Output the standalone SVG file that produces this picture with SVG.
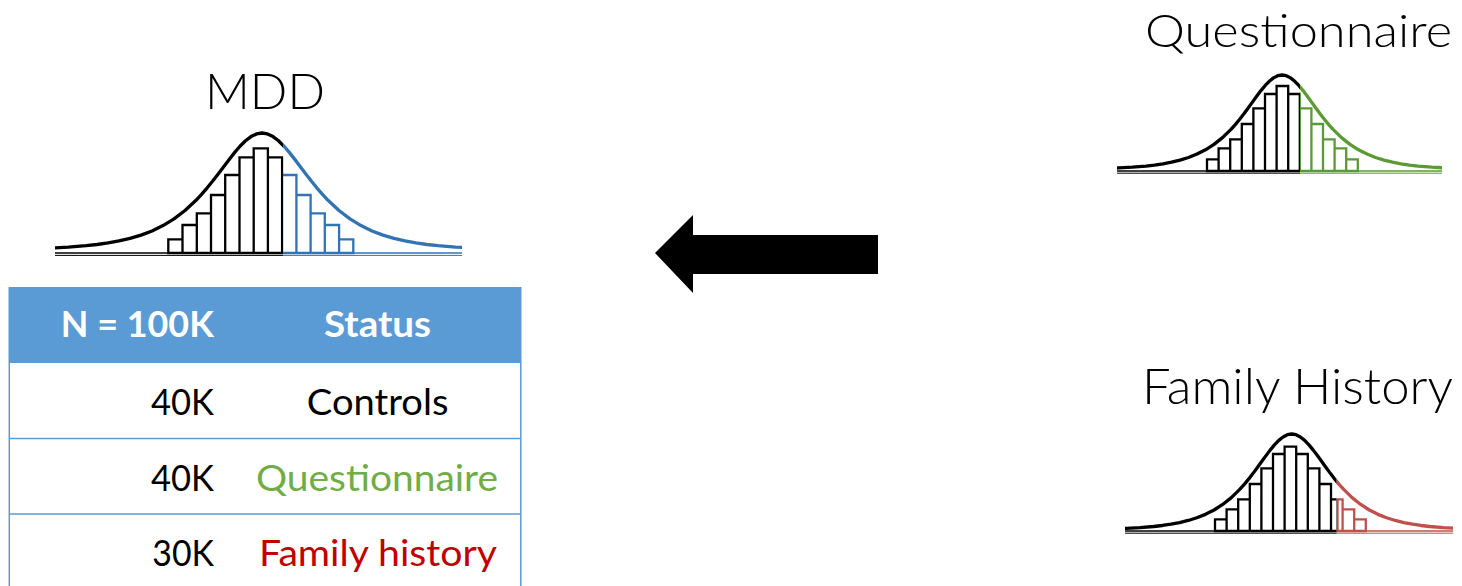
<svg xmlns="http://www.w3.org/2000/svg" xmlns:xlink="http://www.w3.org/1999/xlink" width="1462" height="586" viewBox="0 0 1462 586">
  <style>
    .curve { fill: none; stroke-width: 3.3; vector-effect: non-scaling-stroke; stroke-linejoin: round; }
    .bars { fill: none; stroke-width: 2.3; }
    .base { fill: none; }
    .title { font-family: Lato, "Open Sans", "Liberation Sans", sans-serif; font-weight: 300; fill: #000; }
    .cell { font-family: Lato, "Open Sans", "Liberation Sans", sans-serif; font-size: 37px; fill: #000; }
    .head { font-weight: 700; fill: #fff; }
    .grid { stroke: #5B9BD5; stroke-width: 1.5; fill: none; }
  </style>
  <defs>
    <!-- unit bell curve: y = -sech(u), peak at (0,-1) -->
    <path id="bell" class="curve" d="M-5.2,-0.011 L-4.8,-0.0165 -4.4,-0.0246 -4,-0.0366 -3.75,-0.047 -3.5,-0.0603 -3.25,-0.0774 -3,-0.0993 -2.75,-0.1273 -2.5,-0.1631 -2.25,-0.2085 -2,-0.2658 -1.75,-0.3374 -1.5,-0.4251 -1.375,-0.4753 -1.25,-0.5295 -1.125,-0.5874 -1,-0.6481 -0.875,-0.7103 -0.75,-0.7724 -0.625,-0.8321 -0.5,-0.8868 -0.375,-0.9336 -0.25,-0.9695 -0.125,-0.9922 0,-1 0.125,-0.9922 0.25,-0.9695 0.375,-0.9336 0.5,-0.8868 0.625,-0.8321 0.75,-0.7724 0.875,-0.7103 1,-0.6481 1.125,-0.5874 1.25,-0.5295 1.375,-0.4753 1.5,-0.4251 1.75,-0.3374 2,-0.2658 2.25,-0.2085 2.5,-0.1631 2.75,-0.1273 3,-0.0993 3.25,-0.0774 3.5,-0.0603 3.75,-0.047 4,-0.0366 4.4,-0.0246 4.8,-0.0165 5.2,-0.011"/>

    <!-- MDD distribution artwork (stroke colour set by each use) -->
    <g id="mdd-art">
      <use xlink:href="#bell" transform="translate(262 250) scale(44 117)"/>
      <path class="bars" d="M168.3 253V239.3H182.5V253Z M182.5 253V225H196.8V253Z M196.8 253V213.3H211V253Z M211 253V195H225.2V253Z M225.2 253V175H239.5V253Z M239.5 253V157.3H253.7V253Z M253.7 253V148.3H267.9V253Z M267.9 253V157.3H282.1V253Z M282.1 253V175H296.4V253Z M296.4 253V195H310.6V253Z M310.6 253V213.3H324.8V253Z M324.8 253V225H339.1V253Z M339.1 253V239.3H353.3V253Z"/>
      <path class="base" stroke-width="1.6" d="M55 253H462"/>
      <path class="base" stroke-width="1" d="M55 255.4H462"/>
    </g>

    <!-- Questionnaire distribution artwork -->
    <g id="q-art">
      <use xlink:href="#bell" transform="translate(1282 169.5) scale(34 94.5)"/>
      <path class="bars" d="M1207 171V159.3H1218.6V171Z M1218.6 171V148.3H1230.2V171Z M1230.2 171V139.3H1241.8V171Z M1241.8 171V124H1253.4V171Z M1253.4 171V108.3H1265V171Z M1265 171V94H1276.6V171Z M1276.6 171V86H1288.2V171Z M1288.2 171V94H1299.8V171Z M1299.8 171V108.3H1311.4V171Z M1311.4 171V124H1323V171Z M1323 171V139.3H1334.6V171Z M1334.6 171V148.3H1346.2V171Z M1346.2 171V159.3H1357.8V171Z"/>
      <path class="base" stroke-width="1.6" d="M1117 171H1442"/>
      <path class="base" stroke-width="1" d="M1117 173.2H1442"/>
    </g>

    <!-- Family History distribution artwork -->
    <g id="fh-art">
      <use xlink:href="#bell" transform="translate(1291.7 530) scale(34.5 96)"/>
      <path class="bars" d="M1215 531V519.3H1226.6V531Z M1226.6 531V509.3H1238.2V531Z M1238.2 531V499.3H1249.8V531Z M1249.8 531V484H1261.4V531Z M1261.4 531V468.3H1273V531Z M1273 531V454H1284.6V531Z M1284.6 531V446.7H1296.2V531Z M1296.2 531V454H1307.8V531Z M1307.8 531V468.3H1319.4V531Z M1319.4 531V484H1331V531Z M1331 531V499.3H1342.6V531Z M1342.6 531V509.3H1354.2V531Z M1354.2 531V519.3H1365.8V531Z M1337.5 531V499.3"/>
      <path class="base" stroke-width="1.6" d="M1125 531H1453"/>
      <path class="base" stroke-width="1" d="M1125 533.2H1453"/>
    </g>

    <clipPath id="mdd-left" clipPathUnits="userSpaceOnUse"><rect x="55" y="100" width="228" height="170"/></clipPath>
    <clipPath id="mdd-right" clipPathUnits="userSpaceOnUse"><rect x="283" y="100" width="179" height="170"/></clipPath>
    <clipPath id="q-left" clipPathUnits="userSpaceOnUse"><rect x="1117" y="60" width="183" height="130"/></clipPath>
    <clipPath id="q-right" clipPathUnits="userSpaceOnUse"><rect x="1300" y="60" width="142" height="130"/></clipPath>
    <clipPath id="fh-left" clipPathUnits="userSpaceOnUse"><rect x="1125" y="420" width="211.7" height="125"/></clipPath>
    <clipPath id="fh-right" clipPathUnits="userSpaceOnUse"><rect x="1336.7" y="420" width="116.3" height="125"/></clipPath>
  </defs>

  <rect width="1462" height="586" fill="#fff"/>

  <!-- MDD -->
  <g id="mdd">
    <text class="title" x="205" y="109.3" font-size="50" textLength="120" lengthAdjust="spacingAndGlyphs">MDD</text>
    <use xlink:href="#mdd-art" stroke="#000" clip-path="url(#mdd-left)"/>
    <use xlink:href="#mdd-art" stroke="#3274B3" clip-path="url(#mdd-right)"/>
  </g>

  <!-- Questionnaire -->
  <g id="questionnaire">
    <text class="title" x="1145" y="46.7" font-size="46" textLength="307" lengthAdjust="spacingAndGlyphs">Questionnaire</text>
    <use xlink:href="#q-art" stroke="#000" clip-path="url(#q-left)"/>
    <use xlink:href="#q-art" stroke="#5B9A35" clip-path="url(#q-right)"/>
  </g>

  <!-- Family History -->
  <g id="family-history">
    <text class="title" x="1142" y="404.3" font-size="50" textLength="311" lengthAdjust="spacingAndGlyphs">Family History</text>
    <use xlink:href="#fh-art" stroke="#000" clip-path="url(#fh-left)"/>
    <use xlink:href="#fh-art" stroke="#C0504D" clip-path="url(#fh-right)"/>
  </g>

  <!-- Status table -->
  <g id="status-table">
    <rect x="8.5" y="287" width="513" height="76" fill="#5B9BD5"/>
    <path class="grid" d="M9.3 363V586 M520.8 363V586 M9 438.5H521 M9 514H521"/>
    <text class="cell head" x="137.3" y="337" text-anchor="middle" textLength="153" lengthAdjust="spacingAndGlyphs">N = 100K</text>
    <text class="cell head" x="377.5" y="337" text-anchor="middle" textLength="107" lengthAdjust="spacingAndGlyphs">Status</text>
    <text class="cell" x="214" y="414.5" text-anchor="end" textLength="63" lengthAdjust="spacingAndGlyphs">40K</text>
    <text class="cell" x="377.6" y="414.5" text-anchor="middle" textLength="141.6" lengthAdjust="spacingAndGlyphs">Controls</text>
    <text class="cell" x="214" y="490.5" text-anchor="end" textLength="63" lengthAdjust="spacingAndGlyphs">40K</text>
    <text class="cell" x="377" y="490.5" text-anchor="middle" textLength="242" lengthAdjust="spacingAndGlyphs" style="fill:#70AD47">Questionnaire</text>
    <text class="cell" x="214" y="566.3" text-anchor="end" textLength="61.7" lengthAdjust="spacingAndGlyphs">30K</text>
    <text class="cell" x="378" y="566.3" text-anchor="middle" textLength="238" lengthAdjust="spacingAndGlyphs" style="fill:#C00000">Family history</text>
  </g>

  <!-- Connectors -->
  <g id="connectors">
    <polygon points="655,253 693,215 693,235 878,235 878,274 693,274 693,293" fill="#000"/>
  </g>
</svg>
